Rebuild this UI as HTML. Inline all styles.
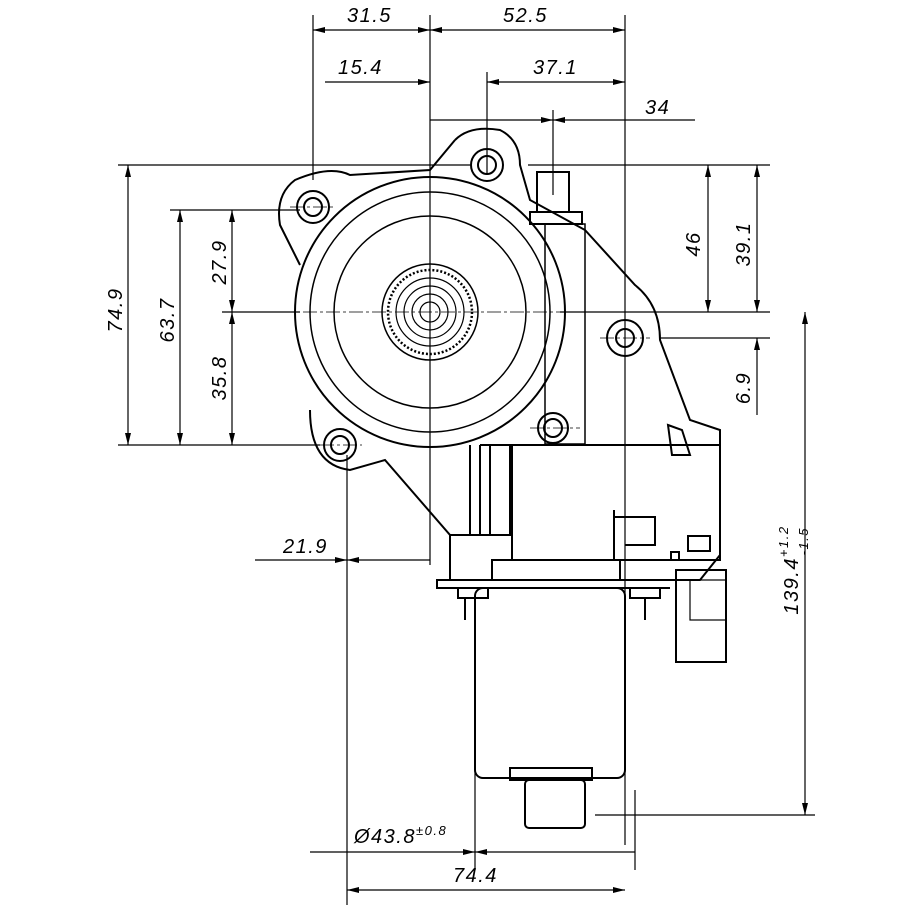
<!DOCTYPE html>
<html><head><style>body{margin:0;background:#fff}svg{display:block}text{font-family:"Liberation Sans",sans-serif;font-style:italic;font-size:20px;letter-spacing:1.5px;fill:#000}</style></head>
<body>
<svg width="915" height="915" viewBox="0 0 915 915" xmlns="http://www.w3.org/2000/svg">
<defs>
<marker id="a" viewBox="0 0 12 6" refX="12" refY="3" markerWidth="12" markerHeight="6" orient="auto-start-reverse" markerUnits="userSpaceOnUse"><path d="M0,0L12,3L0,6z" fill="#000"/></marker>
</defs>
<g stroke="#000" stroke-width="1.2" fill="none">
<line x1="313" y1="15" x2="313" y2="180"/>
<line x1="430" y1="15" x2="430" y2="565"/>
<line x1="625" y1="15" x2="625" y2="845"/>
<line x1="487" y1="72" x2="487" y2="175"/>
<line x1="553" y1="110" x2="553" y2="195"/>
<line x1="118" y1="165" x2="470" y2="165"/>
<line x1="528" y1="165" x2="770" y2="165"/>
<line x1="170" y1="210" x2="300" y2="210"/>
<line x1="222" y1="312" x2="300" y2="312"/>
<line x1="560" y1="312" x2="770" y2="312"/>
<line x1="660" y1="338" x2="770" y2="338"/>
<line x1="118" y1="445" x2="320" y2="445"/>
<line x1="595" y1="815" x2="815" y2="815"/>
<line x1="347" y1="455" x2="347" y2="905"/>
<line x1="475" y1="600" x2="475" y2="870"/>
<line x1="635" y1="790" x2="635" y2="870"/>
<line x1="430" y1="120" x2="553" y2="120" marker-end="url(#a)"/>
<line x1="695" y1="120" x2="553" y2="120" marker-end="url(#a)"/>
<line x1="313" y1="30" x2="430" y2="30" marker-start="url(#a)" marker-end="url(#a)"/>
<line x1="430" y1="30" x2="625" y2="30" marker-start="url(#a)" marker-end="url(#a)"/>
<line x1="325" y1="82" x2="430" y2="82" marker-end="url(#a)"/>
<line x1="487" y1="82" x2="625" y2="82" marker-start="url(#a)" marker-end="url(#a)"/>
<line x1="128" y1="165" x2="128" y2="445" marker-start="url(#a)" marker-end="url(#a)"/>
<line x1="180" y1="210" x2="180" y2="445" marker-start="url(#a)" marker-end="url(#a)"/>
<line x1="232" y1="210" x2="232" y2="312" marker-start="url(#a)" marker-end="url(#a)"/>
<line x1="232" y1="312" x2="232" y2="445" marker-start="url(#a)" marker-end="url(#a)"/>
<line x1="708" y1="165" x2="708" y2="312" marker-start="url(#a)" marker-end="url(#a)"/>
<line x1="757" y1="165" x2="757" y2="312" marker-start="url(#a)" marker-end="url(#a)"/>
<line x1="757" y1="415" x2="757" y2="338" marker-end="url(#a)"/>
<line x1="805" y1="312" x2="805" y2="815" marker-start="url(#a)" marker-end="url(#a)"/>
<line x1="255" y1="560" x2="347" y2="560" marker-end="url(#a)"/>
<line x1="430" y1="560" x2="347" y2="560" marker-end="url(#a)"/>
<line x1="310" y1="852" x2="475" y2="852" marker-end="url(#a)"/>
<line x1="635" y1="852" x2="475" y2="852" marker-end="url(#a)"/>
<line x1="347" y1="890" x2="625" y2="890" marker-start="url(#a)" marker-end="url(#a)"/>
</g>
<g stroke="#000" stroke-width="2" fill="none">
<path d="M455,140 Q470,125 500,130 Q520,140 520,165 L530,200 L585,230 L635,285 Q660,305 660,340 L690,420 L720,430 L720,555 L700,580 L437,580 L437,588 L670,588"/>
<path d="M455,140 L430,170 L350,175 Q330,165 295,180 Q275,195 280,225 L300,265"/>
<path d="M310,410 Q310,465 350,470 L385,460 L450,535 L450,580"/>
<circle cx="430" cy="312" r="135"/>
<circle cx="430" cy="312" r="120" stroke-width="1.5"/>
<circle cx="430" cy="312" r="96" stroke-width="1.5"/>
<circle cx="430" cy="312" r="48" stroke-width="1.5"/>
<circle cx="430" cy="312" r="42" stroke-width="2.5" stroke-dasharray="2 2"/>
<circle cx="430" cy="312" r="34" stroke-width="1.2"/>
<circle cx="430" cy="312" r="26" stroke-width="1.2"/>
<circle cx="430" cy="312" r="18" stroke-width="1.2"/>
<circle cx="430" cy="312" r="10" stroke-width="1.2"/>
<circle cx="313" cy="207" r="16"/><circle cx="313" cy="207" r="9"/>
<circle cx="487" cy="165" r="16"/><circle cx="487" cy="165" r="9"/>
<circle cx="340" cy="445" r="16"/><circle cx="340" cy="445" r="9"/>
<circle cx="625" cy="338" r="18"/><circle cx="625" cy="338" r="9"/>
<circle cx="553" cy="428" r="15"/><circle cx="553" cy="428" r="9"/>
<rect x="537" y="172" width="32" height="40"/>
<rect x="530" y="212" width="52" height="12"/>
<rect x="545" y="224" width="40" height="220" stroke-width="1.5"/>
<path d="M480,445 L720,445"/>
<rect x="512" y="445" width="208" height="115"/>
<rect x="492" y="560" width="128" height="20"/>
<path d="M450,535 L510,535 L510,445"/>
<path d="M470,445 L470,535 M480,445 L480,535 M490,445 L490,535"/>
<path d="M614,510 L614,560 M614,517 L655,517 L655,545 L625,545"/>
<rect x="688" y="536" width="22" height="15"/><rect x="671" y="552" width="8" height="8"/>
<path d="M668,425 L682,430 L690,455 L672,455 Z"/>
<rect x="475" y="588" width="150" height="190" rx="8"/>
<rect x="458" y="588" width="30" height="10"/><rect x="630" y="588" width="30" height="10"/>
<line x1="465" y1="598" x2="465" y2="620"/><line x1="645" y1="598" x2="645" y2="620"/>
<rect x="510" y="768" width="82" height="12"/>
<rect x="525" y="780" width="60" height="48" rx="4"/>
<rect x="676" y="570" width="50" height="92"/>
<rect x="690" y="580" width="36" height="40" stroke-width="1.2"/>
</g>
<g stroke="#000" stroke-width="0.8" stroke-dasharray="14 3 3 3">
<line x1="280" y1="312" x2="560" y2="312"/>
<line x1="290" y1="207" x2="336" y2="207"/>
<line x1="320" y1="445" x2="362" y2="445"/>
<line x1="600" y1="338" x2="650" y2="338"/>
<line x1="530" y1="428" x2="580" y2="428"/>
</g>
<text x="347" y="22">31.5</text>
<text x="503" y="22">52.5</text>
<text x="338" y="74">15.4</text>
<text x="533" y="74">37.1</text>
<text x="645" y="114">34</text>
<text transform="translate(122,310) rotate(-90)" text-anchor="middle">74.9</text>
<text transform="translate(174,320) rotate(-90)" text-anchor="middle">63.7</text>
<text transform="translate(226,262) rotate(-90)" text-anchor="middle">27.9</text>
<text transform="translate(226,378) rotate(-90)" text-anchor="middle">35.8</text>
<text transform="translate(700,244) rotate(-90)" text-anchor="middle">46</text>
<text transform="translate(750,244) rotate(-90)" text-anchor="middle">39.1</text>
<text transform="translate(750,388) rotate(-90)" text-anchor="middle">6.9</text>
<text transform="translate(798,570) rotate(-90)" text-anchor="middle">139.4<tspan font-size="13" dy="-10">+1.2</tspan><tspan font-size="13" dx="-30" dy="20">-1.5</tspan></text>
<text x="283" y="553">21.9</text>
<text x="354" y="843">Ø43.8<tspan font-size="13" dy="-8">±0.8</tspan></text>
<text x="453" y="882">74.4</text>
</svg>
</body></html>
